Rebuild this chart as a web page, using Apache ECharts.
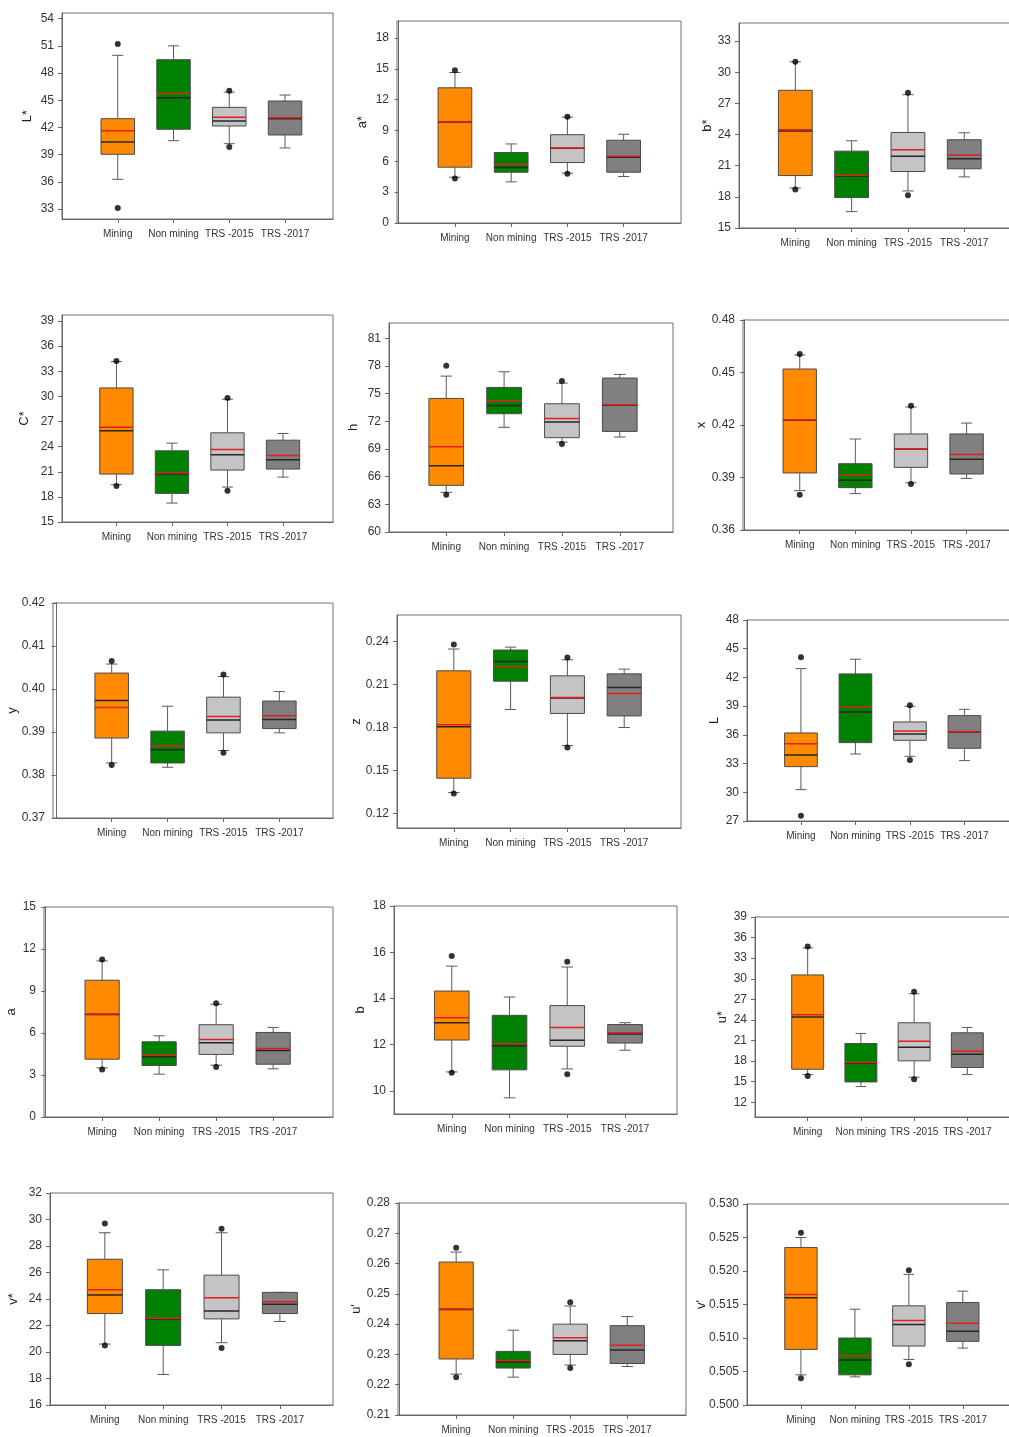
<!DOCTYPE html>
<html>
<head>
<meta charset="utf-8">
<script src="https://cdn.jsdelivr.net/npm/echarts@6/dist/echarts.min.js"></script>
<style>
html, body { margin: 0; padding: 0; background: #fff; }
#chart { width: 1009px; height: 1437px; }
</style>
</head>
<body>
<div id="chart"></div>
<script>
var categories = ['Mining', 'Non mining', 'TRS -2015', 'TRS -2017'];
var boxColors = ['#ff8a00', '#008000', '#c4c4c4', '#808080'];

// boxes: [lower whisker, Q1, median, Q3, upper whisker] per category
// means: red line; outliers: 5th / 95th percentile dots
var boxLstar = [[36.28, 39.04, 40.4, 42.97, 49.96], [40.54, 41.8, 45.29, 49.48, 51.0], [40.21, 42.16, 42.71, 44.22, 45.9], [39.74, 41.17, 42.97, 44.92, 45.58]];
var meanLstar = [41.65, 45.76, 43.12, 43.08];
var outLstar = [[33.1, 51.2], [], [39.85, 46.06], []];
var ticksLstar = [33, 36, 39, 42, 45, 48, 51, 54];

var boxAstar = [[4.45, 5.43, 9.79, 13.15, 14.64], [4.0, 4.94, 5.4, 6.85, 7.69], [4.85, 5.88, 7.27, 8.59, 10.3], [4.52, 4.94, 6.4, 8.05, 8.63]];
var meanAstar = [9.82, 5.72, 7.3, 6.49];
var outAstar = [[4.33, 14.86], [], [4.78, 10.34], []];
var ticksAstar = [0, 3, 6, 9, 12, 15, 18];

var boxBstar = [[18.85, 20.05, 24.33, 28.26, 31.0], [16.58, 17.93, 20.0, 22.4, 23.4], [18.57, 20.44, 21.92, 24.2, 27.84], [19.92, 20.7, 21.66, 23.5, 24.17]];
var meanBstar = [24.46, 20.09, 22.53, 22.02];
var outBstar = [[18.7, 31.0], [], [18.15, 28.03], []];
var ticksBstar = [15, 18, 21, 24, 27, 30, 33];

var boxCstar = [[19.45, 20.72, 25.89, 31.01, 34.15], [17.26, 18.42, 20.72, 23.5, 24.42], [19.17, 21.2, 23.03, 25.65, 29.66], [20.36, 21.32, 22.43, 24.77, 25.57]];
var meanCstar = [26.32, 20.84, 23.66, 22.95];
var outCstar = [[19.3, 34.23], [], [18.74, 29.82], []];
var ticksCstar = [15, 18, 21, 24, 27, 30, 33, 36, 39];

var boxHue = [[64.3, 65.06, 67.19, 74.49, 76.91], [71.35, 72.83, 73.73, 75.68, 77.38], [69.75, 70.23, 71.93, 73.91, 76.15], [70.3, 70.91, 73.75, 76.7, 77.09]];
var meanHue = [69.25, 74.24, 72.32, 73.81];
var outHue = [[64.05, 78.03], [], [69.55, 76.37], []];
var ticksHue = [60, 63, 66, 69, 72, 75, 78, 81];

var boxX = [[0.3825, 0.3926, 0.4227, 0.452, 0.46], [0.3808, 0.3842, 0.3884, 0.3979, 0.412], [0.387, 0.3958, 0.4063, 0.4149, 0.4303], [0.3895, 0.392, 0.4004, 0.4149, 0.4211]];
var meanX = [0.4229, 0.3914, 0.4065, 0.4032];
var outX = [[0.3802, 0.4606], [], [0.3863, 0.431], []];
var ticksX = [0.36, 0.39, 0.42, 0.45, 0.48];

var boxY = [[0.3828, 0.3886, 0.3973, 0.4037, 0.4058], [0.3818, 0.3828, 0.3859, 0.3902, 0.396], [0.3857, 0.3898, 0.3928, 0.3981, 0.4029], [0.3898, 0.3908, 0.3929, 0.3972, 0.3994]];
var meanY = [0.3957, 0.3868, 0.3936, 0.3938];
var outY = [[0.3823, 0.4065], [], [0.3852, 0.4034], []];
var ticksY = [0.37, 0.38, 0.39, 0.40, 0.41, 0.42];

var boxZ = [[0.1347, 0.1447, 0.1805, 0.2195, 0.2347], [0.1926, 0.2123, 0.226, 0.234, 0.236], [0.1674, 0.1898, 0.2005, 0.216, 0.2272], [0.18, 0.1881, 0.2079, 0.2174, 0.2207]];
var meanZ = [0.1819, 0.2226, 0.2009, 0.2037];
var outZ = [[0.134, 0.2379], [], [0.166, 0.2288], []];
var ticksZ = [0.12, 0.15, 0.18, 0.21, 0.24];

var boxL = [[30.28, 32.68, 33.9, 36.2, 42.92], [34.0, 35.19, 38.39, 42.37, 43.9], [33.76, 35.43, 36.09, 37.35, 38.99], [33.31, 34.6, 36.3, 38.01, 38.67]];
var meanL = [35.08, 38.92, 36.41, 36.34];
var outL = [[27.56, 44.11], [], [33.38, 39.09], []];
var ticksL = [27, 30, 33, 36, 39, 42, 45, 48];

var boxA = [[3.51, 4.13, 7.32, 9.77, 11.15], [3.06, 3.68, 4.3, 5.37, 5.8], [3.7, 4.47, 5.3, 6.59, 8.05], [3.44, 3.77, 4.75, 6.04, 6.4]];
var meanA = [7.36, 4.42, 5.54, 4.9];
var outA = [[3.39, 11.25], [], [3.58, 8.12], []];
var ticksA = [0, 3, 6, 9, 12, 15];

var boxB = [[10.82, 12.2, 12.95, 14.32, 15.4], [9.7, 10.91, 11.95, 13.27, 14.06], [10.95, 11.93, 12.19, 13.69, 15.36], [11.76, 12.07, 12.46, 12.87, 12.95]];
var meanB = [13.16, 12.03, 12.74, 12.52];
var outB = [[10.78, 15.84], [], [10.72, 15.59], []];
var ticksB = [10, 12, 14, 16, 18];

var boxUstar = [[16.04, 16.82, 24.42, 30.56, 34.5], [14.29, 14.97, 17.7, 20.57, 22.03], [15.65, 18.04, 20.04, 23.59, 27.83], [16.04, 17.07, 19.01, 22.13, 22.91]];
var meanUstar = [24.76, 17.8, 20.91, 19.45];
var outUstar = [[15.85, 34.7], [], [15.36, 28.12], []];
var ticksUstar = [12, 15, 18, 21, 24, 27, 30, 33, 36, 39];

var boxVstar = [[20.6, 22.9, 24.3, 27.0, 29.0], [18.3, 20.5, 22.5, 24.7, 26.2], [20.7, 22.5, 23.1, 25.8, 29.0], [22.3, 22.9, 23.6, 24.5, 24.5]];
var meanVstar = [24.7, 22.55, 24.1, 23.8];
var outVstar = [[20.5, 29.7], [], [20.3, 29.3], []];
var ticksVstar = [16, 18, 20, 22, 24, 26, 28, 30, 32];

var boxUprime = [[0.2235, 0.2285, 0.2448, 0.2605, 0.2638], [0.2225, 0.2255, 0.2275, 0.231, 0.238], [0.2265, 0.23, 0.2345, 0.24, 0.246], [0.226, 0.227, 0.2315, 0.2395, 0.2425]];
var meanUprime = [0.245, 0.228, 0.2355, 0.233];
var outUprime = [[0.2225, 0.2652], [], [0.2255, 0.2472], []];
var ticksUprime = [0.21, 0.22, 0.23, 0.24, 0.25, 0.26, 0.27, 0.28];

var boxVprime = [[0.5045, 0.5083, 0.516, 0.5235, 0.525], [0.5042, 0.5045, 0.5067, 0.51, 0.5143], [0.5068, 0.5088, 0.512, 0.5148, 0.5195], [0.5085, 0.5095, 0.511, 0.5153, 0.517]];
var meanVprime = [0.5165, 0.5073, 0.5126, 0.5122];
var outVprime = [[0.504, 0.5257], [], [0.5061, 0.5201], []];
var ticksVprime = [0.5, 0.505, 0.51, 0.515, 0.52, 0.525, 0.53];

var panels = [
  ['L*', boxLstar, meanLstar, outLstar, ticksLstar, 0],
  ['a*', boxAstar, meanAstar, outAstar, ticksAstar, 0],
  ['b*', boxBstar, meanBstar, outBstar, ticksBstar, 0],
  ['C*', boxCstar, meanCstar, outCstar, ticksCstar, 0],
  ['h', boxHue, meanHue, outHue, ticksHue, 0],
  ['x', boxX, meanX, outX, ticksX, 2],
  ['y', boxY, meanY, outY, ticksY, 2],
  ['z', boxZ, meanZ, outZ, ticksZ, 2],
  ['L', boxL, meanL, outL, ticksL, 0],
  ['a', boxA, meanA, outA, ticksA, 0],
  ['b', boxB, meanB, outB, ticksB, 0],
  ['u*', boxUstar, meanUstar, outUstar, ticksUstar, 0],
  ['v*', boxVstar, meanVstar, outVstar, ticksVstar, 0],
  ["u'", boxUprime, meanUprime, outUprime, ticksUprime, 2],
  ["v'", boxVprime, meanVprime, outVprime, ticksVprime, 3]
];

// frame in px: left, top, right, bottom; x range; y range; name gap
var frames = [
  [62, 13, 333, 219, 0, 4.86, 31.9, 54.63, 28],
  [397, 21, 681, 223, -0.03, 5.02, 0, 19.65, 28],
  [739, 23, 1020, 228, 0, 4.99, 15, 34.74, 25],
  [62, 315, 333, 522, 0.02, 4.9, 15, 39.72, 31],
  [389, 323, 673, 532, 0.01, 4.92, 60, 82.67, 29],
  [743, 320, 1020, 530, -0.02, 4.96, 0.36, 0.48, 35],
  [53, 603, 333, 818, -0.05, 4.96, 0.37, 0.42, 34],
  [397, 615, 681, 828, 0, 5.0, 0.11, 0.2584, 34],
  [747, 620, 1020, 821, 0.01, 5.02, 27, 48, 26],
  [44, 907, 333, 1117, -0.02, 5.05, 0, 15, 26],
  [394, 906, 677, 1114, 0, 4.9, 9, 18, 27],
  [755, 917, 1020, 1117, 0.01, 4.99, 9.86, 39, 26],
  [50, 1193, 333, 1405, 0.06, 4.91, 16, 32, 30],
  [398, 1203, 686, 1415, -0.02, 5.03, 0.21, 0.28, 35],
  [747, 1204, 1020, 1405, 0, 5.06, 0.5, 0.53, 39]
];

var BOX_W = 0.6, CAP_W = 0.2;
var FONT = 'Liberation Sans, Arial, sans-serif';

function drawBox(params, api) {
  var x = api.value(0);
  var pt = function (v) { return api.coord([x, v]); };
  var lo = pt(api.value(1)), q1 = pt(api.value(2)), md = pt(api.value(3)),
      q3 = pt(api.value(4)), hi = pt(api.value(5)), mn = pt(api.value(6));
  var hw = api.size([BOX_W, 0])[0] / 2;
  var cw = api.size([CAP_W, 0])[0] / 2;
  var cx = lo[0];
  var line = function (x1, y1, x2, y2, color, w) {
    return { type: 'line', shape: { x1: x1, y1: y1, x2: x2, y2: y2 }, style: { stroke: color, lineWidth: w } };
  };
  return {
    type: 'group',
    children: [
      line(cx, hi[1], cx, q3[1], '#5a5a5a', 1),
      line(cx, q1[1], cx, lo[1], '#5a5a5a', 1),
      line(cx - cw, hi[1], cx + cw, hi[1], '#5a5a5a', 1),
      line(cx - cw, lo[1], cx + cw, lo[1], '#5a5a5a', 1),
      { type: 'rect', shape: { x: cx - hw, y: q3[1], width: 2 * hw, height: q1[1] - q3[1] },
        style: { fill: boxColors[params.dataIndex], stroke: '#4a4a4a', lineWidth: 1 } },
      line(cx - hw, md[1], cx + hw, md[1], '#262626', 1.5),
      line(cx - hw, mn[1], cx + hw, mn[1], '#e0201c', 1.5)
    ]
  };
}

var grid = [], xAxis = [], yAxis = [], series = [];
panels.forEach(function (p, k) {
  var f = frames[k];
  grid.push({ left: f[0], top: f[1], width: f[2] - f[0], height: f[3] - f[1],
    show: true, borderColor: '#6e6e6e', borderWidth: 1, backgroundColor: 'transparent',
    outerBoundsMode: 'none' });
  xAxis.push({
    type: 'value', gridIndex: k, min: f[4], max: f[5],
    axisLine: { lineStyle: { color: '#666' } },
    axisTick: { length: 4, customValues: [1, 2, 3, 4], lineStyle: { color: '#666' } },
    axisLabel: { customValues: [1, 2, 3, 4], margin: 10, fontSize: 10, color: '#333', fontFamily: FONT,
      formatter: function (v) { return categories[Math.round(v) - 1]; } },
    splitLine: { show: false }
  });
  yAxis.push({
    type: 'value', gridIndex: k, min: f[6], max: f[7],
    name: p[0], nameLocation: 'middle', nameGap: f[8], nameRotate: 90, nameMoveOverlap: false,
    nameTextStyle: { fontSize: 13, color: '#222', fontFamily: FONT },
    axisLine: { show: true, lineStyle: { color: '#666' } },
    axisTick: { show: true, length: 4, customValues: p[4], lineStyle: { color: '#666' } },
    axisLabel: { customValues: p[4], margin: 8, fontSize: 12, color: '#333', fontFamily: FONT,
      formatter: (function (d) { return function (v) { return v.toFixed(d); }; })(p[5]) },
    splitLine: { show: false }
  });
  var boxData = p[1].map(function (b, i) {
    return [i + 1, b[0], b[1], b[2], b[3], b[4], p[2][i]];
  });
  series.push({
    type: 'custom', xAxisIndex: k, yAxisIndex: k, renderItem: drawBox,
    encode: { x: 0, y: [1, 2, 3, 4, 5, 6] }, data: boxData, silent: true, clip: false
  });
  var dots = [];
  p[3].forEach(function (list, i) {
    list.forEach(function (v) { dots.push([i + 1, v]); });
  });
  series.push({
    type: 'scatter', xAxisIndex: k, yAxisIndex: k, data: dots, symbolSize: 6,
    itemStyle: { color: '#000' }, silent: true, z: 5
  });
});

var chart = echarts.init(document.getElementById('chart'), null, { renderer: 'canvas' });
chart.setOption({
  backgroundColor: '#fff',
  animation: false,
  grid: grid,
  xAxis: xAxis,
  yAxis: yAxis,
  series: series
});
</script>
</body>
</html>
